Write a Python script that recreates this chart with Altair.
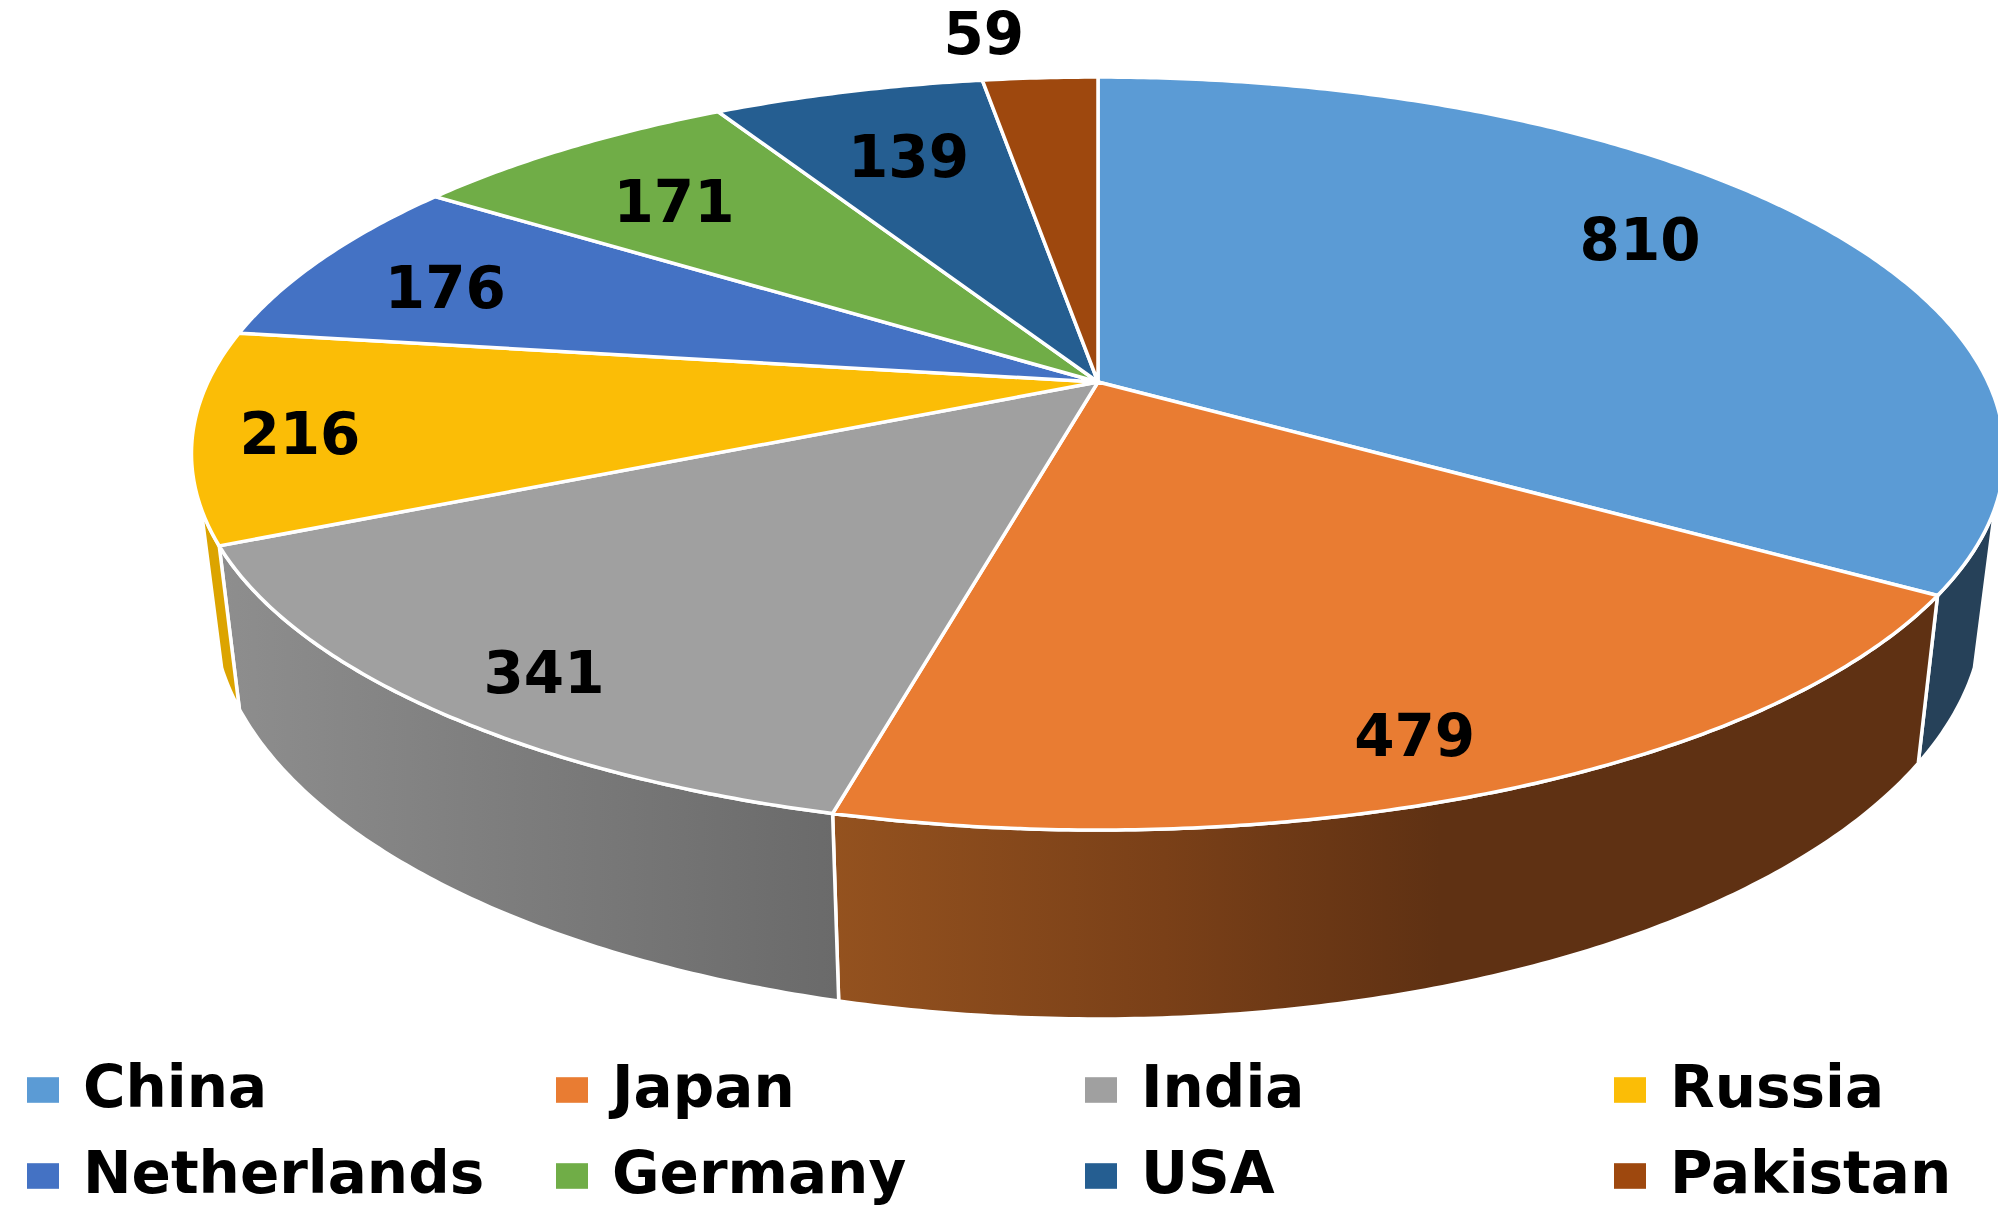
import math
import altair as alt
import pandas as pd

COUNTRIES = ["China", "Japan", "India", "Russia", "Netherlands", "Germany", "USA", "Pakistan"]
VALUES = [810, 479, 341, 216, 176, 171, 139, 59]
COLORS = ["#5b9bd5", "#e97c32", "#a0a0a0", "#fbbd06", "#4472c4", "#70ad47", "#255e91", "#9e480e"]
LABEL_RADIUS = [0.78, 0.878, 0.882, 0.884, 0.816, 0.757, 0.739, 1.18]
LABEL_ANGLE_SHIFT = [-3.5, 2.0, -2.0, -1.0, -2.0, -1.3, 0.3, -3.2]

# perspective view of the pie disc
CX, CY, RX, RY, TILT = 1098.0, 382.0, 890.0, 290.3, -0.19
WALL_SHRINK = 0.977


def project(deg, r=1.0):
    t = math.radians(deg)
    u, v = r * math.sin(t), -r * math.cos(t)
    w = 1 + TILT * v
    return CX + RX * u / w, (CY + RY * v) / w


def lower(x, y):
    return CX + (x - CX) * WALL_SHRINK, y + 168 + (y - 597) * 0.09


total = sum(VALUES)
bounds = [0.0]
for value in VALUES:
    bounds.append(bounds[-1] + value / total * 360)


def arc(a0, a1):
    n = max(2, int(abs(a1 - a0) * 2))
    return [a0 + (a1 - a0) * i / n for i in range(n + 1)]


slices, labels = [], []
for i, name in enumerate(COUNTRIES):
    pts = [(CX, CY)] + [project(a) for a in arc(bounds[i], bounds[i + 1])] + [(CX, CY)]
    slices += [{"country": name, "x": x, "y": y, "o": j} for j, (x, y) in enumerate(pts)]
    lx, ly = project((bounds[i] + bounds[i + 1]) / 2 + LABEL_ANGLE_SHIFT[i], LABEL_RADIUS[i])
    labels.append({"x": lx, "y": ly, "text": str(VALUES[i])})

X = alt.X("x:Q", scale=alt.Scale(domain=[8, 1998], nice=False, zero=False), axis=None)
Y = alt.Y("y:Q", scale=alt.Scale(domain=[1205, 8], nice=False, zero=False), axis=None)


def wall(a0, a1, fill):
    top = [project(a) for a in arc(a0, a1)]
    pts = top + [lower(x, y) for x, y in reversed(top)] + top[:1]
    df = pd.DataFrame([{"x": x, "y": y, "o": j} for j, (x, y) in enumerate(pts)])
    return alt.Chart(df).mark_line(fill=fill, stroke="white", strokeWidth=3.5).encode(x=X, y=Y, order="o:Q")


def grad(stops):
    return alt.Gradient(
        gradient="linear", x1=0, x2=1, y1=0, y2=0,
        stops=[alt.GradientStop(offset=o, color=c) for o, c in stops],
    )


walls = [
    wall(109, bounds[1], "#264159"),
    wall(bounds[1], bounds[2], grad([(0, "#94521f"), (0.3, "#7a4018"), (0.55, "#5f3113"), (1, "#5f3113")])),
    wall(bounds[2], bounds[3], grad([(0, "#8e8e8e"), (1, "#6a6a6a")])),
    wall(bounds[3], 251, "#dca400"),
]

top = alt.Chart(pd.DataFrame(slices)).mark_line(stroke="white", strokeWidth=3.5, strokeJoin="miter").encode(
    x=X, y=Y, order="o:Q",
    fill=alt.Fill(
        "country:N",
        scale=alt.Scale(domain=COUNTRIES, range=COLORS),
        legend=alt.Legend(
            orient="none", legendX=6, legendY=1053, columns=4, title=None, direction="horizontal",
            gridAlign="all", columnPadding=58, rowPadding=28,
            symbolType="M-1,-0.8H1V0.8H-1Z", symbolSize=1024, symbolStrokeWidth=0,
            labelFont="DejaVu Sans", labelFontWeight="bold", labelFontSize=58, labelColor="black",
            labelOffset=11, labelLimit=600,
        ),
    ),
)

text = alt.Chart(pd.DataFrame(labels)).mark_text(
    font="DejaVu Sans", fontWeight="bold", fontSize=58, color="black", align="center", baseline="middle", dy=2
).encode(x=X, y=Y, text="text:N")

chart = alt.layer(*walls, top, text).properties(
    width=1990, height=1197, padding=0, autosize=alt.AutoSizeParams(type="none")
).configure_view(stroke=None)

chart.save("out.html", embed_options={"renderer": "svg", "actions": False})
